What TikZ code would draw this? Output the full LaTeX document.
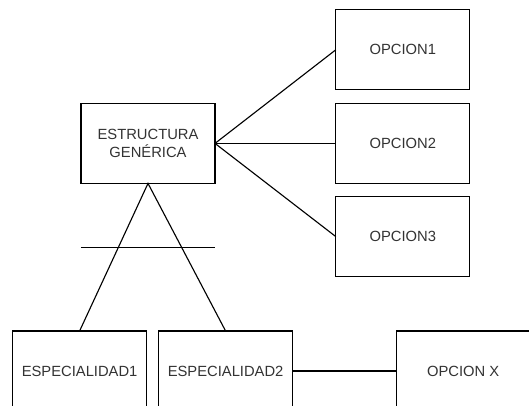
\documentclass[tikz,border=0pt]{standalone}
\usepackage{fontspec}
\setmainfont{Liberation Sans}
\usepackage{tikz}

\begin{document}
\begin{tikzpicture}[every node/.style={draw, minimum width=3.35cm, minimum height=2cm, outer sep=0pt, align=center, font=\fontsize{10.5}{12.5}\selectfont, text=black!80}, line width=0.8pt]
\clip (0,0) rectangle (13.225,10.125);
\fill[white] (0,0) rectangle (13.225,10.125);

\node (gen) at (3.70,6.54) {ESTRUCTURA\\GENÉRICA};
\node (op1) at (10.07,8.88) {OPCION1};
\node (op2) at (10.07,6.54) {OPCION2};
\node (op3) at (10.07,4.21) {OPCION3};

\node (esp1) at (1.99,0.85) {ESPECIALIDAD1};
\node (esp2) at (5.64,0.85) {ESPECIALIDAD2};
\node (opx) at (11.58,0.85) {OPCION X};

\coordinate (barl) at (2.02,3.93);
\coordinate (barr) at (5.37,3.93);

\draw (gen.east) -- (op1.west);
\draw (gen.east) -- (op2.west);
\draw (gen.east) -- (op3.west);
\draw (esp1.north) -- (gen.south) -- (esp2.north);
\draw (barl) -- (barr);
\draw (esp2.east) -- (opx.west);
\end{tikzpicture}
\end{document}
